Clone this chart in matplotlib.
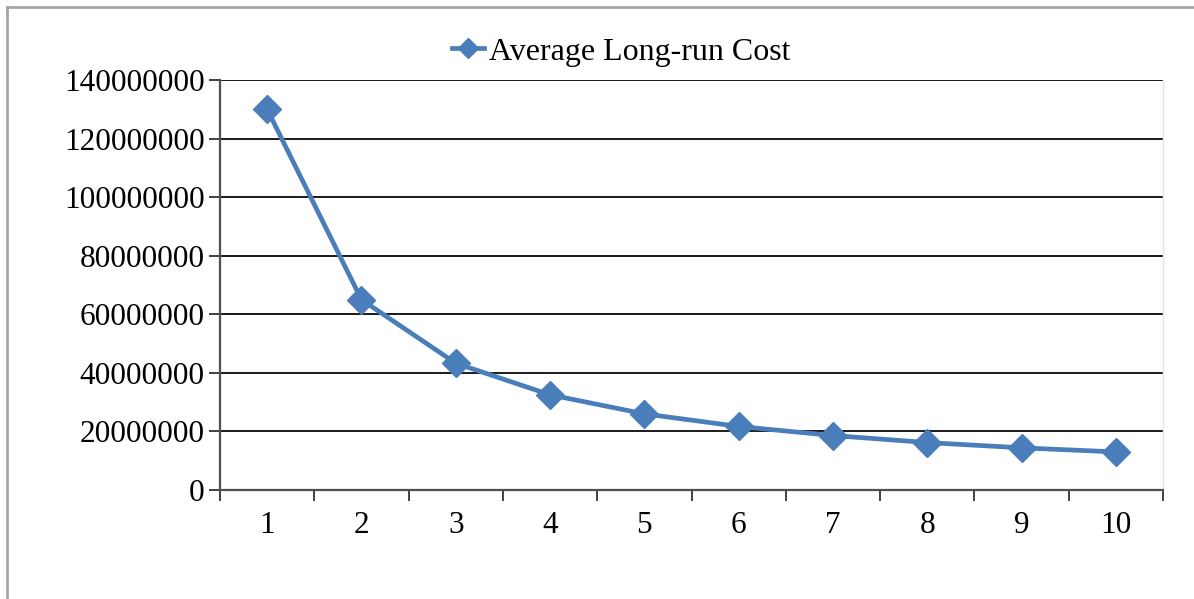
import matplotlib.pyplot as plt
from matplotlib.lines import Line2D
from matplotlib.ticker import FixedLocator, NullFormatter

# data
periods = [1, 2, 3, 4, 5, 6, 7, 8, 9, 10]
avg_cost = [130000000, 65000000, 43300000, 32500000, 26000000,
            21700000, 18600000, 16200000, 14400000, 13000000]
y_ticks = [0, 20000000, 40000000, 60000000, 80000000, 100000000, 120000000, 140000000]
series_name = "Average Long-run Cost"

plt.rcParams['font.family'] = ['Liberation Serif', 'DejaVu Serif']

W, H = 1194, 599
fig = plt.figure(figsize=(W / 100, H / 100), dpi=100)
ax = fig.add_axes([220 / W, 1 - 490 / H, (1163 - 220) / W, (490 - 80) / H])

line_color = '#4a7ebb'
ax.plot(periods, avg_cost, color=line_color, lw=3.4, marker='D', ms=14,
        label=series_name, zorder=3)

ax.set_xlim(0.5, 10.5)
ax.set_ylim(0, 140000000)

# y axis: gridlines + outward ticks
ax.set_yticks(y_ticks)
ax.set_yticklabels([str(v) for v in y_ticks])
ax.yaxis.grid(True, color='#1a1a1a', lw=1.4)
ax.tick_params(axis='y', direction='out', length=8, width=1.4, color='#404040',
               labelsize=22.5, pad=3)

# x axis: ticks between categories, labels at category centres
ax.xaxis.set_major_locator(FixedLocator([p - 0.5 for p in periods] + [10.5]))
ax.xaxis.set_major_formatter(NullFormatter())
ax.xaxis.set_minor_locator(FixedLocator(periods))
ax.set_xticklabels([str(p) for p in periods], minor=True)
ax.tick_params(axis='x', which='major', direction='out', length=8, width=1.4,
               color='#404040')
ax.tick_params(axis='x', which='minor', length=0, labelsize=22.5, pad=15)

for s in ['left', 'bottom']:
    ax.spines[s].set_color('#505050')
    ax.spines[s].set_linewidth(1.6)
ax.spines['top'].set_visible(False)
ax.spines['right'].set_color('#e6e6e6')
ax.spines['right'].set_linewidth(1.0)

leg = fig.legend(loc='center', bbox_to_anchor=(621 / W, 1 - 52 / H),
                 frameon=False, fontsize=23, handlelength=1.0,
                 handletextpad=0.15, markerscale=0.75)

# outer chart border (top and left edges visible)
fig.add_artist(Line2D([7 / W, 7 / W], [0, 1 - 7 / H], color='#a6a6a6', lw=2))
fig.add_artist(Line2D([7 / W, 1], [1 - 7 / H, 1 - 7 / H], color='#a6a6a6', lw=2))

fig.savefig('out.png', dpi=100)
